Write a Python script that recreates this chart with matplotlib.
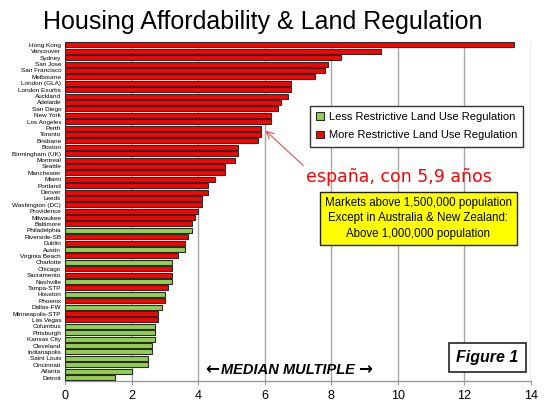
import matplotlib
matplotlib.use("Agg")
import matplotlib.pyplot as plt
from matplotlib.patches import Patch

# markets, top to bottom
markets = [
    "Hong Kong", "Vancouver", "Sydney", "San Jose", "San Francisco",
    "Melbourne", "London (GLA)", "London Exurbs", "Auckland", "Adelaide",
    "San Diego", "New York", "Los Angeles", "Perth", "Toronto",
    "Brisbane", "Boston", "Birmingham (UK)", "Montreal", "Seattle",
    "Manchester", "Miami", "Portland", "Denver", "Leeds",
    "Washington (DC)", "Providence", "Milwaukee", "Baltimore", "Philadelphia",
    "Riverside-SB", "Dublin", "Austin", "Virginia Beach", "Charlotte",
    "Chicago", "Sacramento", "Nashville", "Tampa-STP", "Houston",
    "Phoenix", "Dallas-FW", "Minneapolis-STP", "Las Vegas", "Columbus",
    "Pittsburgh", "Kansas City", "Cleveland", "Indianapolis", "Saint Louis",
    "Cincinnati", "Atlanta", "Detroit",
]
median_multiple = [
    13.5, 9.5, 8.3, 7.9, 7.8,
    7.5, 6.8, 6.8, 6.7, 6.5,
    6.4, 6.2, 6.2, 5.9, 5.9,
    5.8, 5.2, 5.2, 5.1, 4.8,
    4.8, 4.5, 4.3, 4.3, 4.1,
    4.1, 4.0, 3.9, 3.8, 3.8,
    3.7, 3.6, 3.6, 3.4, 3.2,
    3.2, 3.2, 3.2, 3.1, 3.0,
    3.0, 2.9, 2.8, 2.8, 2.7,
    2.7, 2.7, 2.6, 2.6, 2.5,
    2.5, 2.0, 1.5,
]
# 1 = more restrictive land use regulation, 0 = less restrictive
restrictive = [
    1, 1, 1, 1, 1,
    1, 1, 1, 1, 1,
    1, 1, 1, 1, 1,
    1, 1, 1, 1, 1,
    1, 1, 1, 1, 1,
    1, 1, 1, 1, 0,
    1, 1, 0, 1, 0,
    1, 1, 0, 1, 0,
    1, 0, 1, 1, 0,
    0, 0, 0, 0, 0,
    0, 0, 0,
]
x_ticks = [0, 2, 4, 6, 8, 10, 12, 14]
spain_value = 5.9
spain_label = "españa, con 5,9 años"
note_lines = ["Markets above 1,500,000 population",
              "Except in Australia & New Zealand:",
              "Above 1,000,000 population"]

RED = "#ff0000"
GREEN = "#92d050"
SANS = ["Liberation Sans", "DejaVu Sans"]
NARROW = ["Liberation Sans Narrow", "Liberation Sans", "DejaVu Sans"]

W, H = 550, 418


def fx(px):
    return px / W


def fy(py):
    return 1 - py / H


fig = plt.figure(figsize=(5.5, 4.18), dpi=100)
fig.patch.set_facecolor("white")
ax = fig.add_axes([fx(65.4), fy(380.7), fx(530.7) - fx(65.4), fy(41.7) - fy(380.7)])

colors = [RED if r else GREEN for r in restrictive]
ypos = list(range(len(markets)))
ax.barh(ypos, median_multiple, height=0.78, color=colors,
        edgecolor="#2a2a2a", linewidth=0.8, zorder=3)

ax.set_xlim(0, 14)
ax.set_ylim(len(markets) - 0.5, -0.5)
ax.set_xticks(x_ticks)
ax.set_xticklabels([str(t) for t in x_ticks], family=NARROW, fontsize=9)
ax.set_yticks(ypos)
ax.set_yticklabels(markets, family=NARROW, fontsize=4.6)
ax.tick_params(axis="y", length=0, pad=3)
ax.tick_params(axis="x", length=3, color="#999999", pad=4)
ax.grid(axis="x", color="#a6a6a6", linewidth=1.0, zorder=0)
for s in ["top", "right"]:
    ax.spines[s].set_visible(False)
ax.spines["left"].set_color("#555555")
ax.spines["bottom"].set_color("#999999")
ax.spines["bottom"].set_linewidth(1.0)

# title
fig.text(fx(263), fy(22), "Housing Affordability & Land Regulation",
         family=SANS, fontsize=18, ha="center", va="center")

# legend
handles = [Patch(facecolor=GREEN, edgecolor="#2a2a2a", linewidth=0.8,
                 label="Less Restrictive Land Use Regulation"),
           Patch(facecolor=RED, edgecolor="#2a2a2a", linewidth=0.8,
                 label="More Restrictive Land Use Regulation")]
leg = fig.legend(handles=handles, loc="upper right",
                 bbox_to_anchor=(fx(523), fy(106)), borderaxespad=0,
                 fancybox=False, edgecolor="#333333", framealpha=1,
                 handlelength=0.7, handleheight=0.7, handletextpad=0.4,
                 borderpad=0.55, labelspacing=0.75,
                 prop={"family": SANS, "size": 8})
leg.get_frame().set_linewidth(1.0)

# spain annotation pointing at the 5.9 bars
spain_idx = markets.index("Perth")
ax.annotate(spain_label, xy=(spain_value + 0.12, spain_idx + 0.4),
            xycoords="data", xytext=(fx(306), fy(177)),
            textcoords="figure fraction", ha="left", va="center",
            color=RED, fontsize=12.5, family=["DejaVu Sans"],
            arrowprops=dict(arrowstyle="->", color="#e05050", lw=0.8,
                            shrinkA=0, shrinkB=0, relpos=(0, 1)))

# yellow note
fig.text(fx(418.5), fy(218.5), "\n".join(note_lines), family=SANS,
         fontsize=8.3, ha="center", va="center", linespacing=1.35,
         bbox=dict(boxstyle="square,pad=0.45", facecolor="#ffff00",
                   edgecolor="#222222", linewidth=1.0))

# median multiple caption
fig.text(fx(288), fy(370), "MEDIAN MULTIPLE", family=SANS,
         fontsize=10.5, fontweight="bold", fontstyle="italic",
         ha="center", va="center")
fig.text(fx(219), fy(369), "\u2190", family=["DejaVu Sans"],
         fontsize=12, fontweight="bold", ha="right", va="center")
fig.text(fx(358), fy(369), "\u2192", family=["DejaVu Sans"],
         fontsize=12, fontweight="bold", ha="left", va="center")

# figure label
fig.text(fx(487.5), fy(357.5), "Figure 1", family=SANS, fontsize=11.5,
         fontweight="bold", fontstyle="italic", ha="center", va="center",
         bbox=dict(boxstyle="square,pad=0.45", facecolor="white",
                   edgecolor="#222222", linewidth=1.2))

fig.savefig("out.png", dpi=100, facecolor="white")
